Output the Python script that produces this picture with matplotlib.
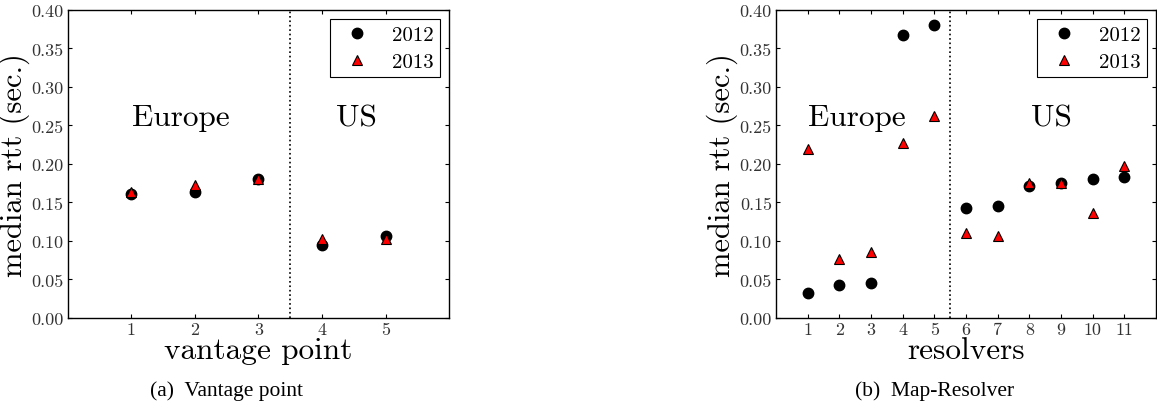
import matplotlib
matplotlib.use('Agg')
import matplotlib.pyplot as plt

plt.rcParams['font.family'] = 'serif'
plt.rcParams['font.serif'] = ['cmr10']
plt.rcParams['mathtext.fontset'] = 'cm'
plt.rcParams['axes.formatter.use_mathtext'] = True

# (a) vantage points
vp_x = [1, 2, 3, 4, 5]
vp_2012 = [0.161, 0.164, 0.180, 0.095, 0.107]
vp_2013 = [0.163, 0.173, 0.181, 0.103, 0.102]

# (b) map resolvers
mr_x = [1, 2, 3, 4, 5, 6, 7, 8, 9, 10, 11]
mr_2012 = [0.033, 0.043, 0.045, 0.367, 0.381, 0.143, 0.145, 0.171, 0.175, 0.180, 0.183]
mr_2013 = [0.219, 0.076, 0.086, 0.227, 0.262, 0.110, 0.106, 0.175, 0.175, 0.136, 0.198]

yticks = [0.00, 0.05, 0.10, 0.15, 0.20, 0.25, 0.30, 0.35, 0.40]

fig = plt.figure(figsize=(11.57, 4.10), dpi=100)
ax1 = fig.add_axes([0.0585, 0.222, 0.3298, 0.7512])
ax2 = fig.add_axes([0.6707, 0.222, 0.3284, 0.7512])


def draw(ax, x, y12, y13, xmax, split, xlabel, eu_x, us_x):
    ax.plot(x, y12, 'o', color='black', markersize=7.5, label='2012', zorder=3)
    ax.plot(x, y13, '^', color='red', markeredgecolor='black', markeredgewidth=0.8,
            markersize=7.5, label='2013', zorder=4)
    ax.axvline(split, color='black', linestyle=':', linewidth=1.2)
    ax.set_xlim(0, xmax)
    ax.set_ylim(0, 0.4)
    ax.set_xticks(x)
    ax.set_xticklabels([str(v) for v in x])
    ax.set_yticks(yticks)
    ax.set_yticklabels(['%.2f' % v for v in yticks])
    ax.tick_params(direction='in', top=True, right=True, length=3, width=0.8,
                   labelsize=13, labelcolor='#333333', pad=3)
    for s in ax.spines.values():
        s.set_linewidth(1.0)
    ax.set_ylabel('median rtt (sec.)', fontsize=22, labelpad=1)
    ax.set_xlabel(xlabel, fontsize=22.5, labelpad=-1)
    ax.text(eu_x, 0.25, 'Europe', fontsize=22.5, ha='center', va='baseline')
    ax.text(us_x, 0.25, 'US', fontsize=22.5, ha='center', va='baseline')
    leg = ax.legend(loc='upper right', numpoints=1, fontsize=15, handletextpad=0.68,
                    borderpad=0.3, labelspacing=0.4, fancybox=False, framealpha=1,
                    borderaxespad=0.45, handlelength=2.0)
    leg.get_frame().set_edgecolor('black')
    leg.get_frame().set_linewidth(0.8)


draw(ax1, vp_x, vp_2012, vp_2013, 6, 3.5, 'vantage point', 1.78, 4.54)
draw(ax2, mr_x, mr_2012, mr_2013, 12, 5.5, 'resolvers', 2.55, 8.69)

fig.text(0.196, 0.035, '(a)  Vantage point', fontsize=15.5, family='Liberation Serif',
         ha='center', va='baseline')
fig.text(0.808, 0.035, '(b)  Map-Resolver', fontsize=15.5, family='Liberation Serif',
         ha='center', va='baseline')

fig.savefig('out.png', dpi=100)
